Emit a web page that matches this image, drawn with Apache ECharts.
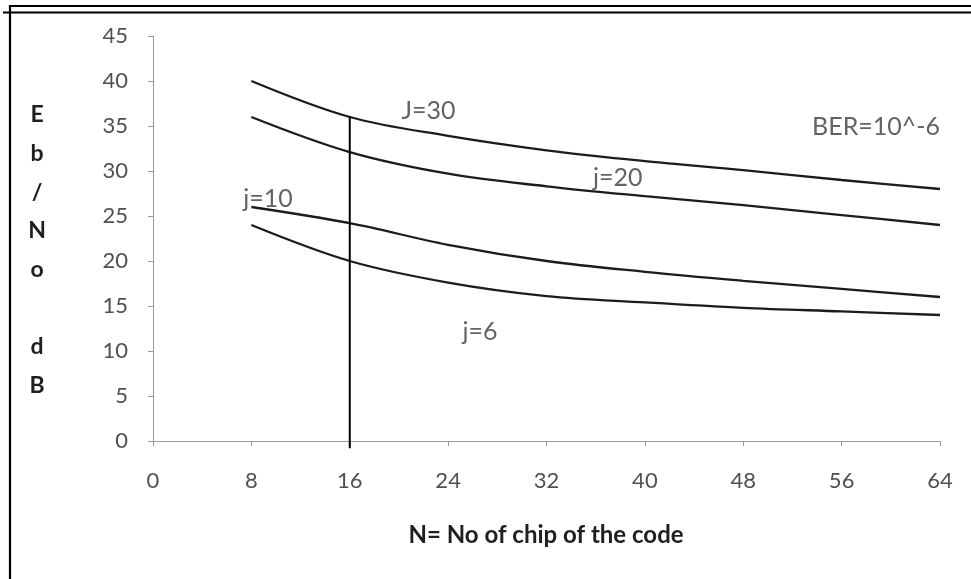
<!DOCTYPE html>
<html>
<head>
<meta charset="utf-8">
<script src="https://cdn.jsdelivr.net/npm/echarts@6/dist/echarts.min.js"></script>
<style>
html,body{margin:0;padding:0;background:#fff;}
#c{width:971px;height:579px;}
</style>
</head>
<body>
<div id="c"></div>
<script>
// ---- data ----
const xValues = [8, 16, 24, 32, 40, 48, 56, 64];
const j30 = [40, 36, 33.9, 32.3, 31.1, 30.1, 29.0, 28];
const j20 = [36, 32.1, 29.7, 28.3, 27.2, 26.2, 25.1, 24];
const j10 = [26, 24.2, 21.8, 20.0, 18.8, 17.8, 16.9, 16];
const j6 = [24, 20, 17.6, 16.1, 15.4, 14.8, 14.4, 14];
const markerX = [16, 16];
const markerY = [-0.8, 36.1];
const annoText = ['J=30', 'j=20', 'j=10', 'j=6', 'BER=10^-6'];
const annoX = [22.4, 37.8, 9.35, 26.6, 58.8];
const annoY = [36.7, 29.2, 26.9, 12.1, 34.9];
const xAxisTitle = 'N= No of chip of the code';
const yAxisTitle = ['E', 'b', '/', 'N', 'o', '', 'd', 'B'];

const FONT = 'Lato, "Open Sans", sans-serif';
const pair = (xs, ys) => xs.map((x, i) => [x, ys[i]]);
const curve = (name, ys) => ({
  name, type: 'line', data: pair(xValues, ys), smooth: 0.35,
  showSymbol: false, symbol: 'none',
  lineStyle: { color: '#1c1c1c', width: 2.3 }
});

const chart = echarts.init(document.getElementById('c'), null, { renderer: 'canvas' });
chart.setOption({
  backgroundColor: '#ffffff',
  animation: false,
  grid: { left: 153, right: 31, top: 36, bottom: 138, containLabel: false },
  xAxis: {
    type: 'value', min: 0, max: 64, interval: 8,
    axisLine: { show: true, lineStyle: { color: '#9a9a9a', width: 1 } },
    axisTick: { show: true, length: 5, lineStyle: { color: '#9a9a9a' } },
    splitLine: { show: false },
    axisLabel: { color: '#505050', fontFamily: FONT, fontSize: 22, margin: 29 }
  },
  yAxis: {
    type: 'value', min: 0, max: 45, interval: 5,
    axisLine: { show: true, lineStyle: { color: '#9a9a9a', width: 1 } },
    axisTick: { show: true, length: 5, lineStyle: { color: '#9a9a9a' } },
    splitLine: { show: false },
    axisLabel: { color: '#505050', fontFamily: FONT, fontSize: 22, margin: 25 }
  },
  graphic: [
    { type: 'line', shape: { x1: 9, y1: 6, x2: 971, y2: 6 }, style: { stroke: '#000', lineWidth: 2 } },
    { type: 'line', shape: { x1: 3, y1: 12.5, x2: 971, y2: 12.5 }, style: { stroke: '#000', lineWidth: 2 } },
    { type: 'line', shape: { x1: 10, y1: 5, x2: 10, y2: 579 }, style: { stroke: '#000', lineWidth: 2.2 } },
    { type: 'text', x: 37, y: 250, style: {
        text: yAxisTitle.join('\n'), fill: '#1f1f1f', font: 'bold 23px ' + FONT,
        align: 'center', verticalAlign: 'middle', lineHeight: 38.6 } },
    { type: 'text', x: 546, y: 535, style: {
        text: xAxisTitle, fill: '#1f1f1f', font: 'bold 24px ' + FONT,
        align: 'center', verticalAlign: 'middle' } }
  ],
  series: [
    curve('J=30', j30),
    curve('j=20', j20),
    curve('j=10', j10),
    curve('j=6', j6),
    {
      name: 'N=16', type: 'line', data: pair(markerX, markerY), clip: false,
      showSymbol: false, symbol: 'none',
      lineStyle: { color: '#000', width: 2 }
    },
    {
      name: 'labels', type: 'scatter', symbolSize: 0,
      data: annoText.map((t, i) => ({ name: t, value: [annoX[i], annoY[i]] })),
      label: {
        show: true, position: 'inside', formatter: p => p.name,
        color: '#3c3c3c', fontFamily: FONT, fontSize: 25
      },
      silent: true
    }
  ]
});
</script>
</body>
</html>
